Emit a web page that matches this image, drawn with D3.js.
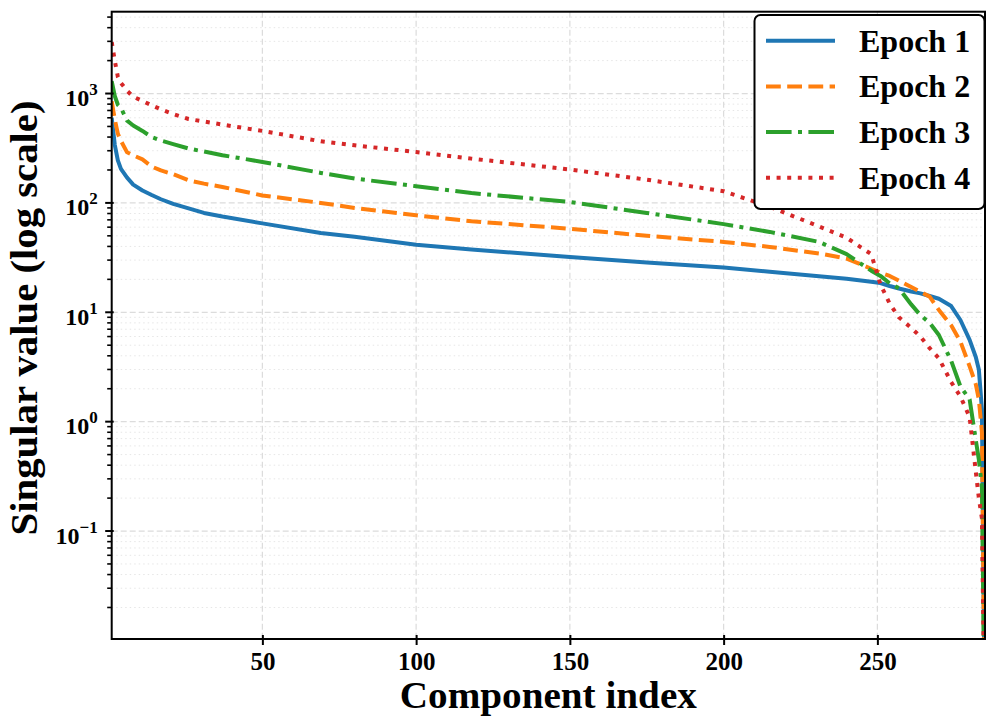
<!DOCTYPE html>
<html>
<head>
<meta charset="utf-8">
<title>Singular values per epoch</title>
<script src="https://cdn.jsdelivr.net/npm/d3@7/dist/d3.min.js"></script>
<style type="text/css">
	body { margin: 0; background: #fff; }
	text { font-family: "Liberation Serif", "Times New Roman", serif; font-weight: bold; }
	.grid-major line { stroke: #dcdcdc; stroke-width: 1.2; stroke-dasharray: 6 3; }
	.grid-minor line { stroke: #e6e6e6; stroke-width: 1; stroke-dasharray: 1.5 3; }
</style>
</head>
<body>
<div id="chart"></div>
<script type="text/javascript">
/* values */
var componentIdx = [1,2,3,4,6,8,11,14,17,21,26,31,37,50,69,80,100,118,150,175,200,215,231,240,248,251,254,257,261,264,267,270,274,277,280,282,283,284,285];
var epoch1 = [600,340,245,205,170,147,130,118,108,98,89,81,75,65,53,49,41.5,37.5,32,28.5,25.7,23.5,21.4,20.3,19,18.5,17.4,16.5,15.5,14.9,14.1,13.3,11.4,8.5,5.6,3.9,3.0,1.3,0.001];
var epoch2 = [850,580,430,370,290,272,250,215,198,183,161,150,140,117,100,90,77,68,58,50,44,39.6,34.5,31,25,23,21.5,19.5,17,15.4,13.9,10.5,7.6,5.4,3.2,2.2,1.6,0.8,0.001];
var epoch3 = [1300,950,790,740,565,510,455,400,372,345,314,295,273,237,188,167,142,123,102,81,64,54.3,44,34,24,21.5,18.4,16.6,11.8,9.4,8.0,6.2,3.6,2.1,1.6,0.68,0.45,0.25,0.001];
var epoch4 = [2950,2000,1420,1250,1060,935,855,780,717,650,585,555,520,455,366,336,292,254,202,163,128,92,61,48,34,18,12,9,7.2,6,4.7,3.8,2.3,1.7,1.1,0.35,0.2,0.13,0.001];
var seriesNames = ["Epoch 1","Epoch 2","Epoch 3","Epoch 4"];
var xTicks = [50,100,150,200,250];
var yTicks = [0.1,1,10,100,1000];
var yExponents = ["\u22121","0","1","2","3"];

draw_chart();

function draw_chart(){
	var W = 997, H = 727;
	var pL = 111.7, pR = 985, pT = 11.7, pB = 639;

	var svg = d3.select("#chart").append("svg").attr("width",W).attr("height",H);

	var x = d3.scaleLinear().domain([1,285]).range([pL,pR]);
	var y = d3.scaleLog().domain([0.0103,5600]).range([pB,pT]);

	/* minor values 2..9 x decade */
	var minorVals = [];
	for(var e = -2; e <= 3; e++){
		for(var k = 2; k <= 9; k++){
			var v = k*Math.pow(10,e);
			if(v > y.domain()[0] && v < y.domain()[1]) minorVals.push(v);
		}
	}

	/* grid */
	svg.append("g").attr("class","grid-minor").selectAll("line").data(minorVals).enter().append("line")
		.attr("x1",pL).attr("x2",pR).attr("y1",function(d){return y(d);}).attr("y2",function(d){return y(d);});
	var gmaj = svg.append("g").attr("class","grid-major");
	gmaj.selectAll("line.h").data(yTicks).enter().append("line").attr("class","h")
		.attr("x1",pL).attr("x2",pR).attr("y1",function(d){return y(d);}).attr("y2",function(d){return y(d);});
	gmaj.selectAll("line.v").data(xTicks).enter().append("line").attr("class","v")
		.attr("y1",pT).attr("y2",pB).attr("x1",function(d){return x(d);}).attr("x2",function(d){return x(d);});

	/* lines */
	svg.append("defs").append("clipPath").attr("id","plotclip").append("rect")
		.attr("x",pL).attr("y",pT).attr("width",pR-pL).attr("height",pB-pT);

	var colors = ["#1f77b4","#ff7f0e","#2ca02c","#d62728"];
	var dashes = [null,"14.8 6.4","25.6 6.4 4 6.4","4 6.6"];
	var allSeries = [epoch1,epoch2,epoch3,epoch4];

	var line = d3.line().x(function(d){return x(d[0]);}).y(function(d){return y(d[1]);});
	var gl = svg.append("g").attr("clip-path","url(#plotclip)");
	allSeries.forEach(function(vals,i){
		var pts = componentIdx.map(function(c,j){ return [c,vals[j]]; });
		gl.append("path").attr("d",line(pts)).attr("fill","none")
			.attr("stroke",colors[i]).attr("stroke-width",4)
			.attr("stroke-dasharray",dashes[i]).attr("stroke-linejoin","round");
	});

	/* frame */
	svg.append("rect").attr("x",pL).attr("y",pT).attr("width",pR-pL).attr("height",pB-pT)
		.attr("fill","none").attr("stroke","#000").attr("stroke-width",2);

	/* x axis */
	var xAxis = d3.axisBottom(x).tickValues(xTicks).tickSize(6).tickPadding(7);
	var gx = svg.append("g").attr("transform","translate(0,"+pB+")").call(xAxis);
	gx.select(".domain").remove();
	gx.attr("font-size",null).attr("font-family",null);
	gx.selectAll(".tick line").attr("stroke","#000").attr("stroke-width",2).attr("y1",-4);
	gx.selectAll(".tick text").attr("font-size",25).attr("fill","#000");

	/* y axis minor ticks */
	svg.append("g").selectAll("line").data(minorVals).enter().append("line")
		.attr("x1",pL-4.5).attr("x2",pL).attr("y1",function(d){return y(d);}).attr("y2",function(d){return y(d);})
		.attr("stroke","#000").attr("stroke-width",1.6);
	/* y axis major ticks */
	var gy = svg.append("g");
	gy.selectAll("line").data(yTicks).enter().append("line")
		.attr("x1",pL-6.5).attr("x2",pL+2).attr("y1",function(d){return y(d);}).attr("y2",function(d){return y(d);})
		.attr("stroke","#000").attr("stroke-width",2);
	var ylab = gy.selectAll("text").data(yTicks).enter().append("text")
		.attr("x",pL-14).attr("y",function(d){return y(d)+12.5;})
		.attr("text-anchor","end").attr("font-size",24);
	ylab.append("tspan").text("10");
	ylab.append("tspan").attr("font-size",17).attr("dy",-11).text(function(d,i){return yExponents[i];});

	/* axis titles */
	svg.append("text").attr("x",(pL+pR)/2).attr("y",708).attr("text-anchor","middle")
		.attr("font-size",38).attr("textLength",297).attr("lengthAdjust","spacingAndGlyphs")
		.text("Component index");
	svg.append("text").attr("transform","translate(37,318) rotate(-90)")
		.attr("text-anchor","middle").attr("font-size",37)
		.attr("textLength",435).attr("lengthAdjust","spacingAndGlyphs")
		.text("Singular value (log scale)");

	/* legend */
	var lg = svg.append("g");
	lg.append("rect").attr("x",754.5).attr("y",15).attr("width",230).attr("height",194).attr("rx",6)
		.attr("fill","#fff").attr("stroke","#000").attr("stroke-width",2);
	seriesNames.forEach(function(name,i){
		var cy = 40.7 + i*45.7;
		lg.append("line").attr("x1",766).attr("x2",835).attr("y1",cy).attr("y2",cy)
			.attr("stroke",colors[i]).attr("stroke-width",4).attr("stroke-dasharray",dashes[i]);
		lg.append("text").attr("x",859).attr("y",cy+11).attr("font-size",32).text(name);
	});
}
</script>
</body>
</html>
